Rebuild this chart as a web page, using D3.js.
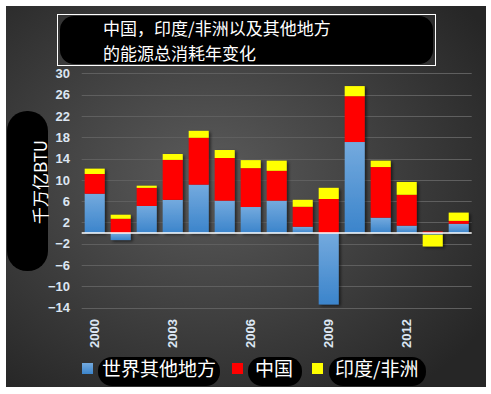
<!DOCTYPE html>
<html>
<head>
<meta charset="utf-8">
<script src="https://cdn.jsdelivr.net/npm/d3@7"></script>
<style>
  html, body { margin: 0; padding: 0; background: #fff; }
  svg { display: block; }
</style>
</head>
<body>
<div id="chart"></div>
<script>
// data
const years = ["2000","2001","2002","2003","2004","2005","2006","2007","2008","2009","2010","2011","2012","2013","2014"];
const restOfWorld = [7.4, -1.3, 5.1, 6.25, 9.1, 6.1, 4.9, 6.1, 1.2, -13.4, 17.1, 2.9, 1.4, -0.3, 1.75];
const china = [3.7, 2.7, 3.4, 7.5, 8.8, 8.0, 7.3, 5.6, 3.75, 6.4, 8.6, 9.5, 5.8, 0.3, 0.55];
const indiaAfrica = [1.0, 0.75, 0.4, 1.1, 1.3, 1.5, 1.5, 1.9, 1.3, 2.1, 1.9, 1.2, 2.4, -2.2, 1.55];
const yTicks = [-14, -10, -6, -2, 2, 6, 10, 14, 18, 22, 26, 30];
const xLabels = ["2000", "2003", "2006", "2009", "2012"];
const seriesNames = ["世界其他地方", "中国", "印度/非洲"];

const W = 491, H = 394;
const svg = d3.select("#chart").append("svg").attr("width", W).attr("height", H);
const defs = svg.append("defs");

const bg = defs.append("radialGradient").attr("id", "bg")
  .attr("cx", "42%").attr("cy", "45%").attr("r", "70%");
bg.append("stop").attr("offset", "0%").attr("stop-color", "#5b5b5b");
bg.append("stop").attr("offset", "100%").attr("stop-color", "#262626");

const blue = defs.append("linearGradient").attr("id", "blue")
  .attr("x1", 0).attr("y1", 0).attr("x2", 0).attr("y2", 1);
blue.append("stop").attr("offset", "0%").attr("stop-color", "#74aade");
blue.append("stop").attr("offset", "100%").attr("stop-color", "#3b84cb");

const shadow = defs.append("filter").attr("id", "shadow")
  .attr("x", "-20%").attr("y", "-20%").attr("width", "150%").attr("height", "150%");
shadow.append("feDropShadow").attr("dx", 2).attr("dy", 1.5).attr("stdDeviation", 1.5)
  .attr("flood-color", "#000").attr("flood-opacity", 0.55);

svg.append("rect").attr("x", 6).attr("y", 6).attr("width", 480).attr("height", 381)
  .attr("fill", "url(#bg)");

const x = d3.scaleBand().domain(years).range([81.7, 471.7])
  .paddingInner(0.23).paddingOuter(0.115);
const y = d3.scaleLinear().domain([-14, 30]).range([307.7, 73.3]);

// gridlines
svg.append("g").selectAll("line").data(yTicks).enter().append("line")
  .attr("x1", 81.7).attr("x2", 471.7)
  .attr("y1", d => Math.round(y(d)) + 0.5).attr("y2", d => Math.round(y(d)) + 0.5)
  .attr("stroke", "#5f5f5f").attr("stroke-width", 1);

// y axis labels
const yAxis = svg.append("g").attr("transform", "translate(70,0)")
  .call(d3.axisLeft(y).tickValues(yTicks).tickSize(0).tickPadding(0));
yAxis.select(".domain").remove();
yAxis.selectAll("text")
  .attr("fill", "#dce6f2")
  .style("font-family", "'Liberation Sans', Arial, sans-serif")
  .style("font-weight", "bold")
  .style("font-size", "13px");

// stacked bars
const table = years.map((yr, i) => ({
  year: yr, rest: restOfWorld[i], china: china[i], india: indiaAfrica[i]
}));
const stack = d3.stack().keys(["rest", "china", "india"])
  .offset(d3.stackOffsetDiverging);
const layers = stack(table);
const fills = ["url(#blue)", "#ff0000", "#ffff00"];

svg.append("g").attr("filter", "url(#shadow)")
  .selectAll("g").data(layers).enter().append("g")
  .attr("fill", (d, i) => fills[i])
  .selectAll("rect").data(d => d).enter().append("rect")
  .attr("x", d => x(d.data.year))
  .attr("width", x.bandwidth())
  .attr("y", d => y(Math.max(d[0], d[1])))
  .attr("height", d => Math.abs(y(d[0]) - y(d[1])));

// zero line
svg.append("line").attr("x1", 81.7).attr("x2", 471.7)
  .attr("y1", y(0)).attr("y2", y(0))
  .attr("stroke", "#ffffff").attr("stroke-width", 1.5);

// x labels
const xAxis = svg.append("g").attr("transform", "translate(0,319)")
  .call(d3.axisBottom(x).tickValues(xLabels).tickSize(0).tickPadding(0));
xAxis.select(".domain").remove();
xAxis.selectAll("text")
  .attr("transform", "rotate(-90)")
  .attr("x", 0).attr("y", 0).attr("dy", "0.35em")
  .attr("text-anchor", "end")
  .attr("fill", "#dce6f2")
  .style("font-family", "'Liberation Sans', Arial, sans-serif")
  .style("font-weight", "bold")
  .style("font-size", "13px");

// y title with black blob
svg.append("rect").attr("x", 7).attr("y", 111).attr("width", 41).attr("height", 160)
  .attr("rx", 20).attr("fill", "#000");
svg.append("text")
  .attr("transform", "translate(39,182) rotate(-90)")
  .attr("text-anchor", "middle").attr("dominant-baseline", "central")
  .attr("fill", "#fff")
  .style("font-family", "'Noto Sans CJK SC', sans-serif")
  .style("font-size", "17px")
  .text("千万亿BTU");

// title box
svg.append("rect").attr("x", 60).attr("y", 16).attr("width", 373).attr("height", 48)
  .attr("rx", 14).attr("fill", "#000");
svg.append("rect").attr("x", 57.5).attr("y", 14.5).attr("width", 378).attr("height", 51)
  .attr("fill", "none").attr("stroke", "#fff").attr("stroke-width", 1);
const titleLines = ["中国，印度/非洲以及其他地方", "的能源总消耗年变化"];
svg.append("g").selectAll("text").data(titleLines).enter().append("text")
  .attr("x", 103).attr("y", (d, i) => 35 + i * 24.8)
  .attr("fill", "#fff")
  .style("font-family", "'Noto Sans CJK SC', sans-serif")
  .style("font-size", "17px")
  .text(d => d);

// legend
const legendItems = [
  { sx: 82, tx: 102, blob: [98, 122] },
  { sx: 232, tx: 255, blob: [248, 54] },
  { sx: 312, tx: 335, blob: [329, 97] }
];
const legend = svg.append("g");
legend.selectAll("rect.blob").data(legendItems).enter().append("rect")
  .attr("class", "blob")
  .attr("x", d => d.blob[0]).attr("y", 357).attr("width", d => d.blob[1]).attr("height", 29)
  .attr("rx", 14).attr("fill", "#000");
legend.selectAll("rect.key").data(legendItems).enter().append("rect")
  .attr("class", "key")
  .attr("x", d => d.sx).attr("y", 363).attr("width", 11).attr("height", 11)
  .attr("fill", (d, i) => fills[i]);
legend.selectAll("text").data(legendItems).enter().append("text")
  .attr("x", d => d.tx).attr("y", 376)
  .attr("fill", "#fff")
  .style("font-family", "'Noto Sans CJK SC', sans-serif")
  .style("font-size", "19px")
  .text((d, i) => seriesNames[i]);
</script>
</body>
</html>
